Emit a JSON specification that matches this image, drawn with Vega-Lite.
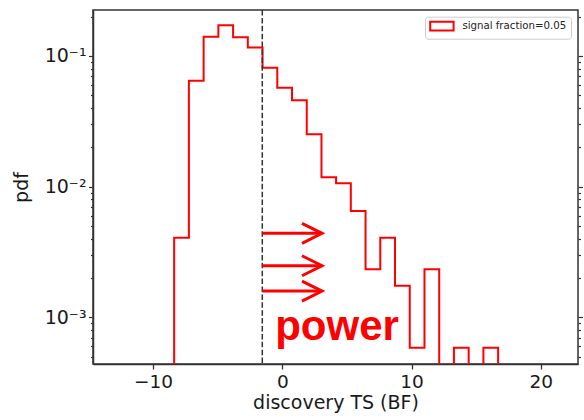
{
  "$schema": "https://vega.github.io/schema/vega-lite/v6.json",
  "width": 485,
  "height": 354,
  "autosize": "none",
  "padding": {"left": 93, "top": 10, "right": 6, "bottom": 56},
  "background": "white",
  "config": {
    "view": {"stroke": "#333333", "strokeWidth": 1.5},
    "font": "DejaVu Sans"
  },
  "datasets": {
    "hist": [
      {"i": 0, "ts": -8.37, "pdf": 0.0001, "label": "signal fraction=0.05"},
      {"i": 1, "ts": -8.37, "pdf": 0.00406, "label": "signal fraction=0.05"},
      {"i": 2, "ts": -7.23, "pdf": 0.0647, "label": "signal fraction=0.05"},
      {"i": 3, "ts": -6.09, "pdf": 0.1406, "label": "signal fraction=0.05"},
      {"i": 4, "ts": -4.95, "pdf": 0.1718, "label": "signal fraction=0.05"},
      {"i": 5, "ts": -3.81, "pdf": 0.139, "label": "signal fraction=0.05"},
      {"i": 6, "ts": -2.67, "pdf": 0.1159, "label": "signal fraction=0.05"},
      {"i": 7, "ts": -1.53, "pdf": 0.0814, "label": "signal fraction=0.05"},
      {"i": 8, "ts": -0.39, "pdf": 0.0572, "label": "signal fraction=0.05"},
      {"i": 9, "ts": 0.75, "pdf": 0.0458, "label": "signal fraction=0.05"},
      {"i": 10, "ts": 1.89, "pdf": 0.0252, "label": "signal fraction=0.05"},
      {"i": 11, "ts": 3.03, "pdf": 0.0118, "label": "signal fraction=0.05"},
      {"i": 12, "ts": 4.16, "pdf": 0.0106, "label": "signal fraction=0.05"},
      {"i": 13, "ts": 5.3, "pdf": 0.0065, "label": "signal fraction=0.05"},
      {"i": 14, "ts": 6.44, "pdf": 0.00233, "label": "signal fraction=0.05"},
      {"i": 15, "ts": 7.58, "pdf": 0.00406, "label": "signal fraction=0.05"},
      {"i": 16, "ts": 8.72, "pdf": 0.00174, "label": "signal fraction=0.05"},
      {"i": 17, "ts": 9.86, "pdf": 0.000584, "label": "signal fraction=0.05"},
      {"i": 18, "ts": 11.0, "pdf": 0.00233, "label": "signal fraction=0.05"},
      {"i": 19, "ts": 12.14, "pdf": 0.0001, "label": "signal fraction=0.05"},
      {"i": 20, "ts": 13.28, "pdf": 0.000584, "label": "signal fraction=0.05"},
      {"i": 21, "ts": 14.42, "pdf": 0.0001, "label": "signal fraction=0.05"},
      {"i": 22, "ts": 15.56, "pdf": 0.000584, "label": "signal fraction=0.05"},
      {"i": 23, "ts": 16.7, "pdf": 0.0001, "label": "signal fraction=0.05"}
    ],
    "arrows": [
      {"from": -1.55, "to": 3.07, "pdf": 0.00439},
      {"from": -1.55, "to": 3.07, "pdf": 0.00248},
      {"from": -1.55, "to": 3.07, "pdf": 0.001587}
    ],
    "cut": [{"ts": -1.55}],
    "note": [{"ts": -0.55, "pdf": 0.00067, "text": "power"}]
  },
  "resolve": {"axis": {"x": "independent", "y": "independent"}},
  "layer": [
    {
      "data": {"name": "hist"},
      "mark": {"type": "line", "interpolate": "step-after", "strokeWidth": 2, "clip": true},
      "encoding": {
        "x": {"field": "ts", "type": "quantitative",
              "scale": {"domain": [-14.65, 22.88], "nice": false, "zero": false},
              "axis": {"values": [-10, 0, 10, 20], "title": "discovery TS (BF)", "grid": false,
                       "labelFontSize": 18.5, "labelColor": "#1a1a1a", "labelPadding": 3.5,
                       "tickSize": 5, "tickColor": "#333333", "tickWidth": 1.3,
                       "domainColor": "#333333", "domainWidth": 1.5,
                       "labelFlush": false, "labelOverlap": false,
                       "titleFontSize": 19, "titleFontWeight": "normal", "titleColor": "#1a1a1a",
                       "titleBaseline": "alphabetic", "titleY": 44}},
        "y": {"field": "pdf", "type": "quantitative",
              "scale": {"type": "log", "domain": [0.0004391, 0.2249], "nice": false},
              "axis": {"orient": "left", "title": "pdf", "grid": false,
                       "values": [0.0005, 0.0006, 0.0007, 0.0008, 0.0009, 0.001, 0.002, 0.003, 0.004, 0.005, 0.006, 0.007, 0.008, 0.009, 0.01, 0.02, 0.03, 0.04, 0.05, 0.06, 0.07, 0.08, 0.09, 0.1, 0.2],
                       "labelExpr": "datum.value == 0.1 ? '10⁻¹' : datum.value == 0.01 ? '10⁻²' : datum.value == 0.001 ? '10⁻³' : ''",
                       "labelFontSize": 19, "labelColor": "#1a1a1a", "labelPadding": 2.5,
                       "labelOverlap": false, "labelFlush": false,
                       "tickSize": {"condition": {"test": "datum.value == 0.1 || datum.value == 0.01 || datum.value == 0.001", "value": 4.5}, "value": 2.5},
                       "tickColor": "#333333", "tickWidth": 1.2,
                       "domainColor": "#333333", "domainWidth": 1.5,
                       "titleFontSize": 19, "titleFontWeight": "normal", "titleColor": "#1a1a1a", "titlePadding": 13}},
        "color": {"field": "label", "type": "nominal",
                  "scale": {"range": ["#ff0000"]},
                  "legend": {"title": null, "orient": "none", "legendX": 332, "legendY": 6.7,
                             "symbolType": "M-2.7,-1H2.7V1H-2.7Z", "symbolSize": 75,
                             "symbolStrokeColor": "#ff0000", "symbolFillColor": "transparent", "symbolStrokeWidth": 2,
                             "symbolOffset": 7.4, "labelOffset": 15,
                             "labelFontSize": 10.2, "labelFont": "DejaVu Sans", "labelColor": "#222222",
                             "padding": 4, "fillColor": "white", "strokeColor": "#cccccc", "cornerRadius": 3}},
        "order": {"field": "i", "type": "quantitative"}
      }
    },
    {
      "data": {"name": "cut"},
      "mark": {"type": "rule", "color": "#333333", "strokeWidth": 1.5, "strokeDash": [5.5, 2.4]},
      "encoding": {
        "x": {"field": "ts", "type": "quantitative", "axis": null}
      }
    },
    {
      "data": {"name": "arrows"},
      "mark": {"type": "rule", "color": "#ff0000", "strokeWidth": 3},
      "encoding": {
        "x": {"field": "from", "type": "quantitative", "axis": null},
        "x2": {"field": "to"},
        "y": {"field": "pdf", "type": "quantitative",
              "axis": {"orient": "right", "title": null, "labels": false, "domain": false, "grid": false,
                       "values": [0.0005, 0.0006, 0.0007, 0.0008, 0.0009, 0.001, 0.002, 0.003, 0.004, 0.005, 0.006, 0.007, 0.008, 0.009, 0.01, 0.02, 0.03, 0.04, 0.05, 0.06, 0.07, 0.08, 0.09, 0.1, 0.2],
                       "tickSize": {"condition": {"test": "datum.value == 0.1 || datum.value == 0.01 || datum.value == 0.001", "value": 4.5}, "value": 2.5},
                       "tickColor": "#333333", "tickWidth": 1.2}}
      }
    },
    {
      "data": {"name": "arrows"},
      "mark": {"type": "point", "shape": "M-1,-0.5L0,0L-1,0.5", "size": 1600, "filled": false,
               "stroke": "#ff0000", "strokeWidth": 3, "opacity": 1},
      "encoding": {
        "x": {"field": "to", "type": "quantitative", "axis": null},
        "y": {"field": "pdf", "type": "quantitative", "axis": null}
      }
    },
    {
      "data": {"name": "note"},
      "mark": {"type": "text", "font": "Liberation Sans", "fontWeight": "bold", "fontSize": 42,
               "color": "#ff0000", "align": "left", "baseline": "alphabetic"},
      "encoding": {
        "x": {"field": "ts", "type": "quantitative", "axis": null},
        "y": {"field": "pdf", "type": "quantitative", "axis": null},
        "text": {"field": "text"}
      }
    }
  ]
}
